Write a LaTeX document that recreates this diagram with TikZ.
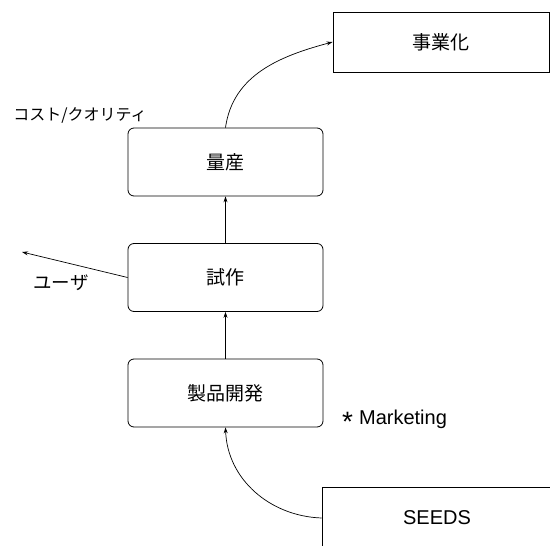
\documentclass[tikz,border=0pt]{standalone}
\usepackage{fontspec}
\setmainfont{Liberation Sans}
\newfontfamily\jp{Noto Sans CJK JP}
\usetikzlibrary{arrows.meta}
\tikzset{
  stage/.style={draw, line width=0.8pt, rounded corners=6pt, minimum width=195pt, minimum height=68pt, inner sep=0pt, font=\jp\fontsize{19}{22}\selectfont},
  plainbox/.style={draw, line width=0.8pt, inner sep=0pt},
  conn/.style={line width=0.7pt, -{Stealth[length=6pt,width=4pt]}},
  lbl/.style={inner sep=0pt}
}
\begin{document}
\begin{tikzpicture}[x=1pt,y=-1pt]
\useasboundingbox (0,0) rectangle (550,546);
\clip (0,0) rectangle (550,546);
\node[plainbox, minimum width=216pt, minimum height=60pt, font=\jp\fontsize{19}{22}\selectfont] (jigyo) at (441,42) {事業化};
\node[stage] (ryosan) at (225.5,162) {量産};
\node[stage] (shisaku) at (225.5,277.5) {試作};
\node[stage] (seihin) at (225.5,393) {製品開発};
\node[plainbox, minimum width=240pt, minimum height=62pt, font=\fontsize{20}{24}\selectfont] (seeds) at (442,518) {\hspace*{-10pt}SEEDS};
\node[lbl, font=\jp\fontsize{16}{20}\selectfont] (cost) at (80,115) {コスト/クオリティ};
\node[lbl, font=\jp\fontsize{18.5}{22}\selectfont] (user) at (61,283) {ユーザ};
\node[lbl, font=\fontsize{20}{24}\selectfont, anchor=base west] (mkt) at (342,424) {\raisebox{-7pt}{\fontsize{28}{28}\selectfont *}\hspace{6pt}Marketing};
\coordinate (userend) at (22,252);
\draw[conn] (seeds.west) to[out=178,in=-88] (seihin.south);
\draw[conn] (seihin.north) -- (shisaku.south);
\draw[conn] (shisaku.north) -- (ryosan.south);
\draw[conn] (ryosan.north) to[out=82,in=195] (jigyo.west);
\draw[conn] (shisaku.west) -- (userend);
\end{tikzpicture}
\end{document}
